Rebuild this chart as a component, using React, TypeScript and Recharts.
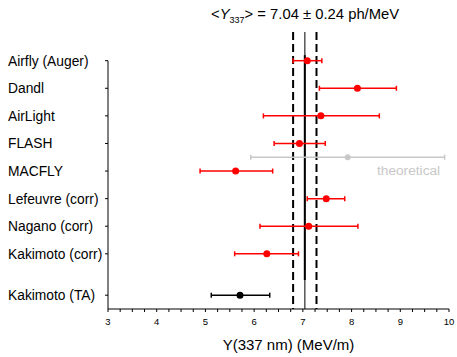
import { ScatterChart, Scatter, XAxis, YAxis, ErrorBar, ReferenceLine, ReferenceDot, Label } from 'recharts'

const labels = ['Airfly (Auger)', 'Dandl', 'AirLight', 'FLASH', 'MACFLY', 'Lefeuvre (corr)', 'Nagano (corr)', 'Kakimoto (corr)', 'Kakimoto (TA)']
const rows = [0, 1, 2, 3, 4, 5, 6, 7, 8.5]
const values = [7.09, 8.12, 7.37, 6.93, 5.62, 7.48, 7.12, 6.26, 5.71]
const errLow = [0.29, 0.78, 1.18, 0.52, 0.73, 0.39, 1.0, 0.66, 0.59]
const errHigh = [0.3, 0.8, 1.2, 0.53, 0.76, 0.38, 1.01, 0.65, 0.61]

const theoryRow = 3.5
const theoryValue = 7.92
const theoryErr = [1.99, 1.99]

const meanValue = 7.04
const meanErr = 0.24

const xTicks = [3, 3.25, 3.5, 3.75, 4, 4.25, 4.5, 4.75, 5, 5.25, 5.5, 5.75, 6, 6.25, 6.5, 6.75, 7, 7.25, 7.5, 7.75, 8, 8.25, 8.5, 8.75, 9, 9.25, 9.5, 9.75, 10]

const redData = values.slice(0, 8).map((v, i) => ({ x: v, y: rows[i], err: [errLow[i], errHigh[i]] }))
const blackData = [{ x: values[8], y: rows[8], err: [errLow[8], errHigh[8]] }]
const theoryData = [{ x: theoryValue, y: theoryRow, err: theoryErr }]

const RowTick = (props: any) => {
  const idx = rows.indexOf(props.payload.value)
  return (
    <text x={8} y={props.y} dy={5} textAnchor="start" fontSize={13.8} fill="#000">
      {labels[idx]}
    </text>
  )
}

const dot = (color: string, r: number) => (props: any) => <circle cx={props.cx} cy={props.cy} r={r} fill={color} />

export default function App() {
  return (
    <div style={{ position: 'absolute', left: 0, top: 0, width: 457, height: 357, background: '#fff', fontFamily: '"Liberation Sans", Arial, sans-serif' }}>
      <div style={{ position: 'absolute', left: 211, top: 6, fontSize: 14.8, whiteSpace: 'nowrap', color: '#000' }}>
        &lt;<i>Y</i>
        <sub style={{ fontSize: 9 }}>337</sub>&gt; = {meanValue.toFixed(2)} ± {meanErr.toFixed(2)} ph/MeV
      </div>
      <ScatterChart width={457} height={357} margin={{ top: 32, right: 8, bottom: 8, left: 0 }}>
        <XAxis
          type="number"
          dataKey="x"
          domain={[3, 10]}
          ticks={xTicks}
          interval={0}
          tickFormatter={(v: number) => (Number.isInteger(v) ? String(v) : '')}
          tick={{ fontSize: 9.5, fill: '#000' }}
          tickSize={3}
          tickMargin={6}
          stroke="#000"
          height={40}
        >
          <Label value="Y(337 nm) (MeV/m)" position="insideBottom" offset={4} dx={10} dy={5} fontSize={15} fill="#000" />
        </XAxis>
        <YAxis
          type="number"
          dataKey="y"
          domain={[-1.04, 9]}
          reversed
          ticks={rows}
          interval={0}
          tick={<RowTick />}
          tickSize={3}
          axisLine={false}
          stroke="#000"
          width={108}
        />
        <ReferenceLine segment={[{ x: 3, y: 0 }, { x: 3, y: 9 }]} stroke="#000" strokeWidth={1} />
        <ReferenceLine segment={[{ x: meanValue, y: -1.04 }, { x: meanValue, y: 9 }]} stroke="#555" strokeWidth={1.5} />
        <ReferenceLine segment={[{ x: meanValue, y: -0.2 }, { x: meanValue, y: 7.95 }]} stroke="#000" strokeWidth={2} />
        <ReferenceLine segment={[{ x: meanValue - meanErr, y: -1.04 }, { x: meanValue - meanErr, y: 9 }]} stroke="#000" strokeWidth={2} strokeDasharray="8 4" />
        <ReferenceLine segment={[{ x: meanValue + meanErr, y: -1.04 }, { x: meanValue + meanErr, y: 9 }]} stroke="#000" strokeWidth={2} strokeDasharray="8 4" />
        <ReferenceDot x={9.17} y={3.97} r={0} fill="none" stroke="none" label={{ value: 'theoretical', position: 'center', fill: '#c8c8c8', fontSize: 13.7 }} />
        <Scatter data={theoryData} fill="#c8c8c8" shape={dot('#c8c8c8', 3)} isAnimationActive={false}>
          <ErrorBar dataKey="err" direction="x" width={2.5} strokeWidth={1.5} stroke="#c8c8c8" />
        </Scatter>
        <Scatter data={redData} fill="#ff0000" shape={dot('#ff0000', 3.5)} isAnimationActive={false}>
          <ErrorBar dataKey="err" direction="x" width={2.5} strokeWidth={1.5} stroke="#ff0000" />
        </Scatter>
        <Scatter data={blackData} fill="#000" shape={dot('#000', 3.5)} isAnimationActive={false}>
          <ErrorBar dataKey="err" direction="x" width={2.5} strokeWidth={1.5} stroke="#000" />
        </Scatter>
      </ScatterChart>
    </div>
  )
}
